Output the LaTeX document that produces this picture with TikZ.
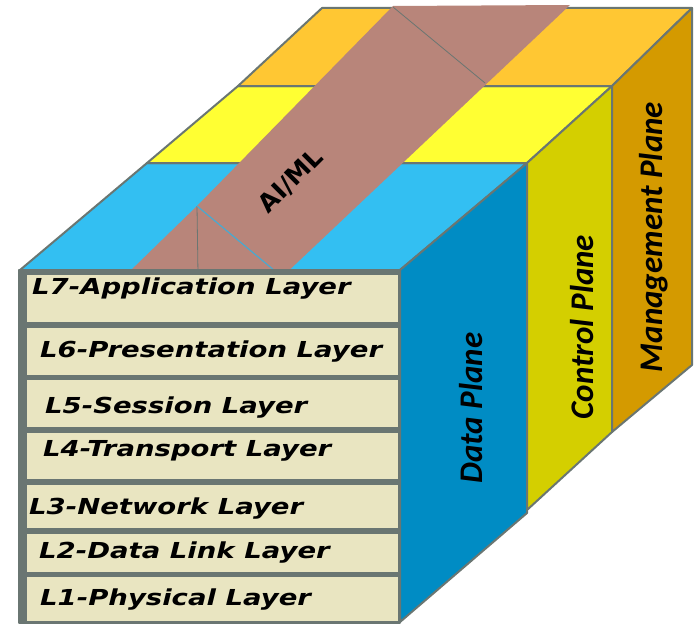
\documentclass[tikz,border=0pt]{standalone}
\usepackage{fontspec}
\newfontfamily\layerfont[FakeStretch=1.25,
  ItalicFont={DejaVu Sans Oblique}, BoldFont={DejaVu Sans Bold},
  BoldItalicFont={DejaVu Sans Bold Oblique}]{DejaVu Sans}
\newfontfamily\aimlfont[BoldFont={DejaVu Sans Bold}]{DejaVu Sans}
\newfontfamily\planefont{Carlito}
\definecolor{topblue}{RGB}{51, 191, 242}
\definecolor{datablue}{RGB}{0, 140, 196}
\definecolor{topyellow}{RGB}{255, 255, 51}
\definecolor{ctrlolive}{RGB}{212, 207, 0}
\definecolor{toporange}{RGB}{255, 199, 51}
\definecolor{mgmtgold}{RGB}{212, 154, 0}
\definecolor{layerbeige}{RGB}{233, 229, 193}
\definecolor{edgegray}{RGB}{106, 118, 114}
\definecolor{aimlrose}{RGB}{184, 133, 122}
\definecolor{foldblue}{RGB}{70, 170, 210}

\begin{document}
\begin{tikzpicture}[x=1pt, y=-1pt,
  facet/.style={draw=edgegray, line width=2pt, line join=round},
  layerbox/.style={draw=edgegray, line width=1pt, fill=layerbeige, minimum width=372pt, inner sep=0pt},
  layertext/.style={anchor=west, inner sep=0pt, font=\layerfont\fontsize{22}{26}\selectfont\bfseries\itshape},
  planetext/.style={rotate=90, inner sep=0pt, font=\planefont\fontsize{33}{36}\selectfont\bfseries\itshape}
]
  \useasboundingbox (0,0) rectangle (698,626);

  % top of the cube
  \filldraw[facet, fill=topblue] (20,270) -- (147,163) -- (527,163) -- (400,270) -- cycle;
  \filldraw[facet, fill=topyellow] (147,163) -- (238,86) -- (612,86) -- (527,163) -- cycle;
  \filldraw[facet, fill=toporange] (238,86) -- (322,8) -- (692,8) -- (612,86) -- cycle;

  % side planes
  \filldraw[facet, fill=datablue] (400,270) -- (527,163) -- (527,513) -- (400,622) -- cycle;
  \filldraw[facet, fill=ctrlolive] (527,163) -- (612,86) -- (612,432) -- (527,510) -- cycle;
  \filldraw[facet, fill=mgmtgold] (612,86) -- (692,8) -- (692,365) -- (612,432) -- cycle;

  % AI/ML band
  \fill[aimlrose] (127,274) -- (197,206) -- (393,6) -- (570,5) -- (282,277) -- cycle;
  \draw[edgegray, line width=0.8pt] (197,206) -- (198,274);
  \draw[foldblue, line width=1.2pt] (197,206) -- (275,271);
  \draw[edgegray, line width=0.8pt] (393,7) -- (485,83);
  \node[rotate=45, inner sep=0pt, font=\aimlfont\fontsize{25}{28}\selectfont\bfseries] (aiml) at (291,181) {AI/ML};

  % front face with the seven layers
  \filldraw[facet, fill=edgegray] (19,270) rectangle (400,623);
  \node[layerbox, minimum height=48pt] (l7) at (212,298) {};
  \node[layerbox, minimum height=48pt] (l6) at (212,351) {};
  \node[layerbox, minimum height=48pt] (l5) at (212,403) {};
  \node[layerbox, minimum height=47pt] (l4) at (212,455.5) {};
  \node[layerbox, minimum height=44pt] (l3) at (212,506) {};
  \node[layerbox, minimum height=39pt] (l2) at (212,552.5) {};
  \node[layerbox, minimum height=45pt] (l1) at (212,598.5) {};

  \node[layertext] (l7text) at (32,289) {L7-Application Layer};
  \node[layertext] (l6text) at (40,352) {L6-Presentation Layer};
  \node[layertext] (l5text) at (45,408) {L5-Session Layer};
  \node[layertext] (l4text) at (43,451) {L4-Transport Layer};
  \node[layertext] (l3text) at (29,509) {L3-Network Layer};
  \node[layertext] (l2text) at (39,553) {L2-Data Link Layer};
  \node[layertext] (l1text) at (40,600) {L1-Physical Layer};

  \node[planetext] (data) at (471,408) {Data Plane};
  \node[planetext] (ctrl) at (582,327) {Control Plane};
  \node[planetext] (mgmt) at (654,237) {Management Plane};
\end{tikzpicture}
\end{document}
